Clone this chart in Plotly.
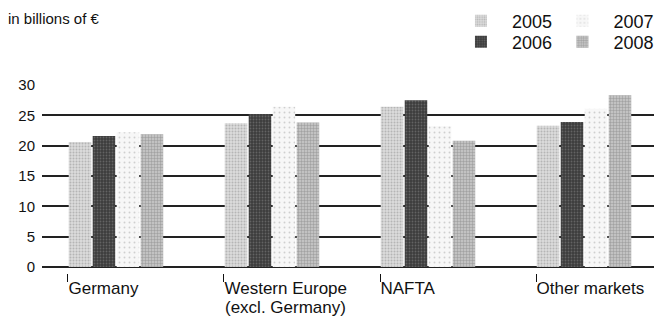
import plotly.graph_objects as go

categories = ["Germany", "Western Europe", "NAFTA", "Other markets"]
category_sublines = ["", "(excl. Germany)", "", ""]
years = ["2005", "2006", "2007", "2008"]
v2005 = [20.6, 23.7, 26.4, 23.3]
v2006 = [21.6, 25.2, 27.5, 23.9]
v2007 = [22.2, 26.4, 23.2, 26.1]
v2008 = [21.9, 23.8, 20.8, 28.3]
y_ticks = [0, 5, 10, 15, 20, 25, 30]

series = [v2005, v2006, v2007, v2008]
styles = [
    dict(bg="#dcdcdc", fg="#8e8e8e", shape=".", size=3, solidity=0.35),
    dict(bg="#3c3c3c", fg="#8a8a8a", shape=".", size=3, solidity=0.3),
    dict(bg="#f7f7f7", fg="#a8a8a8", shape=".", size=5, solidity=0.12),
    dict(bg="#c2c2c2", fg="#6e6e6e", shape="+", size=3, solidity=0.3),
]
# one legend per entry -> 2x2 grid, 2005/2006 left column, 2007/2008 right column
legend_ids = ["legend", "legend2", "legend3", "legend4"]
legend_pos = [(0.658, 1.340, "left"), (0.658, 1.229, "left"),
              (1.012, 1.340, "right"), (1.012, 1.229, "right")]

FONT = "Liberation Sans, Arial, sans-serif"
bargap = 0.385
xs = list(range(len(categories)))

fig = go.Figure()
for yr, vals, st, lg in zip(years, series, styles, legend_ids):
    fig.add_trace(go.Bar(
        x=xs, y=vals, name=yr + "\u00a0\u00a0", legend=lg,
        marker=dict(
            color=st["bg"],
            line=dict(width=0),
            pattern=dict(shape=st["shape"], fgcolor=st["fg"], bgcolor=st["bg"],
                         size=st["size"], solidity=st["solidity"]),
        ),
    ))

legend_layout = {}
for lg, (lx, ly, anc) in zip(legend_ids, legend_pos):
    legend_layout[lg] = dict(x=lx, y=ly, xanchor=anc, yanchor="middle",
                             font=dict(size=18), itemwidth=52,
                             bgcolor="rgba(0,0,0,0)")

half = (1 - bargap) / 2
fig.update_layout(
    width=654, height=311,
    margin=dict(l=34, r=0, t=77, b=46, autoexpand=False),
    paper_bgcolor="white", plot_bgcolor="white",
    barmode="group", bargap=bargap, bargroupgap=0.06,
    font=dict(family=FONT, color="#111", size=15),
    showlegend=True,
    xaxis=dict(
        range=[-0.474, 3.5], anchor="free", position=0,
        tickvals=[i - half for i in xs], ticktext=categories,
        ticks="outside", ticklen=8, tickwidth=1, tickcolor="#111",
        ticklabelposition="outside right",
        tickfont=dict(size=17), showgrid=False, zeroline=False, showline=False,
    ),
    yaxis=dict(
        domain=[0.032, 1], range=[0, 30], tickvals=y_ticks,
        showgrid=True, gridcolor="#222", gridwidth=1.5,
        zeroline=True, zerolinecolor="#222", zerolinewidth=1.5,
        ticks="", tickfont=dict(size=15), ticklabelstandoff=6,
    ),
    **legend_layout,
)
for i, sub in zip(xs, category_sublines):
    if sub:
        fig.add_annotation(text=sub, xref="x", yref="paper", x=i - half, y=-0.185,
                           xanchor="left", yanchor="middle", xshift=-1,
                           showarrow=False, font=dict(size=17))
fig.add_annotation(text="in billions of €", xref="paper", yref="paper",
                   x=-0.058, y=1.356, xanchor="left", yanchor="middle",
                   showarrow=False, font=dict(size=15))
fig.write_html("out.html")
